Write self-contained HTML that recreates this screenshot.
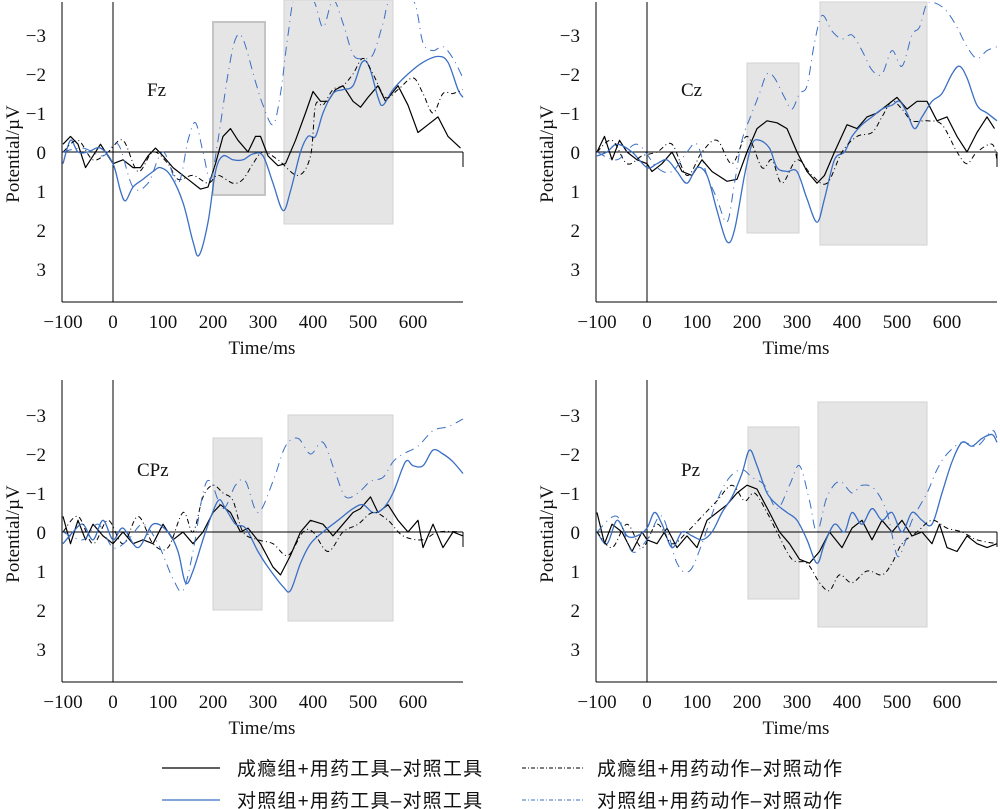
<!DOCTYPE html>
<html><head><meta charset="utf-8"><style>
html,body{margin:0;padding:0;background:#fff;}
svg{display:block;}
text{font-family:"Liberation Serif","Noto Serif CJK SC",serif;fill:#111;}
.leg{font-family:"Liberation Sans","Noto Sans CJK SC",sans-serif;font-size:19px;letter-spacing:1.2px;}
</style></head><body>
<svg id="s" width="1000" height="809" viewBox="0 0 1000 809" xmlns="http://www.w3.org/2000/svg">
<g id="g"></g>
<g font-size="19">
<text x="147" y="96" font-size="19">Fz</text>
<text x="681" y="96" font-size="19">Cz</text>
<text x="137" y="476" font-size="19">CPz</text>
<text x="681" y="476" font-size="19">Pz</text>
</g>
<line x1="162" y1="768" x2="220" y2="768" stroke="#000" stroke-width="1.3"/>
<text class="leg" x="237" y="775">成瘾组+用药工具–对照工具</text>
<line x1="522" y1="768" x2="583" y2="768" stroke="#000" stroke-width="1" stroke-dasharray="4,2,1,2"/>
<text class="leg" x="597" y="775">成瘾组+用药动作–对照动作</text>
<line x1="162" y1="800" x2="220" y2="800" stroke="#3a6fc4" stroke-width="1.3"/>
<text class="leg" x="237" y="807">对照组+用药工具–对照工具</text>
<line x1="522" y1="800" x2="583" y2="800" stroke="#3a6fc4" stroke-width="1" stroke-dasharray="4,2,1,2"/>
<text class="leg" x="597" y="807">对照组+用药动作–对照动作</text>
</svg>
<script>
var NS="http://www.w3.org/2000/svg",G=document.getElementById('g');
function el(t,a,p){var e=document.createElementNS(NS,t);for(var k in a)e.setAttribute(k,a[k]);(p||G).appendChild(e);return e;}
var panels=[
{x0:113,y0:152,sp:62,top:2,bot:302,boxes:[[213,22,265,195,1],[284,0,393,224,0]],
 d:[
 [[-100,-0.2],[-85,-0.4],[-70,-0.2],[-55,0.4],[-40,0.1],[-25,-0.2],[-10,0.1],[0,0.3],[20,0.2],[40,0.4],[55,0.4],[70,0.1],[85,-0.1],[100,0.1],[120,0.4],[150,0.7],[175,0.95],[190,0.9],[205,0.3],[220,-0.4],[235,-0.6],[250,-0.3],[270,0],[285,-0.4],[295,-0.4],[310,0.1],[330,0.35],[345,0.3],[365,-0.3],[385,-1.0],[400,-1.55],[415,-1.3],[430,-1.3],[445,-1.6],[460,-1.7],[480,-1.3],[495,-1.15],[510,-1.4],[530,-1.7],[545,-1.3],[570,-1.7],[590,-1.2],[610,-0.5],[630,-0.7],[650,-0.9],[670,-0.4],[695,-0.1]],
 [[-100,0.3],[-85,-0.3],[-70,0],[-50,0],[-25,-0.1],[0,0.3],[15,1.0],[25,1.25],[40,0.9],[60,0.7],[80,0.5],[95,0.4],[115,0.6],[140,1.3],[160,2.3],[172,2.65],[190,1.8],[205,0.5],[220,0.1],[240,0.2],[260,0.2],[280,0.05],[300,0.1],[320,0.8],[340,1.5],[355,1.0],[375,0],[390,-0.4],[405,-0.4],[420,-1.0],[440,-1.5],[460,-1.6],[480,-1.7],[498,-2.3],[512,-2.2],[530,-1.4],[540,-1.2],[560,-1.6],[590,-2.0],[620,-2.3],[650,-2.45],[670,-2.3],[690,-1.6],[700,-1.4]],
 [[-100,0],[-70,-0.3],[-40,0.2],[-10,0],[20,-0.3],[50,0.5],[80,0],[110,0.3],[130,0.7],[160,0.6],[190,0.8],[210,0.6],[240,0.8],[260,0.7],[280,0.3],[300,0],[330,0.2],[370,0.6],[395,0.1],[405,-1.2],[420,-1.2],[440,-1.6],[460,-1.7],[480,-2.0],[500,-2.4],[520,-2.0],[545,-1.4],[570,-1.6],[600,-1.9],[620,-1.5],[640,-1.0],[660,-1.5],[680,-1.5],[700,-1.6]],
 [[-100,0],[-60,-0.1],[-20,0.1],[10,-0.2],[40,0.9],[70,0.8],[100,0],[130,0.8],[150,-0.3],[165,-0.75],[180,0],[195,0.7],[210,-0.3],[230,-2.0],[245,-2.9],[260,-2.9],[285,-1.8],[300,-1.2],[320,-0.7],[335,-1.5],[350,-3.0],[365,-4],[400,-3.9],[420,-3.2],[440,-3.9],[460,-3.3],[480,-2.5],[500,-2.4],[520,-2.5],[540,-3.3],[555,-3.9],[600,-3.9],[620,-2.8],[640,-2.6],[660,-2.7],[680,-2.4],[700,-1.9]]]},
{x0:647,y0:152,sp:596,top:2,bot:302,boxes:[[747,63,799,233,0],[820,2,927,245,0]],
 d:[
 [[-100,0],[-85,-0.4],[-70,0.2],[-55,-0.3],[-40,0],[-20,0.2],[0,0.3],[10,0.5],[30,0.3],[50,0],[70,0.5],[90,0.6],[110,0.2],[130,0.5],[160,0.75],[180,0.7],[200,0],[220,-0.6],[240,-0.8],[260,-0.75],[280,-0.6],[300,0],[320,0.5],[340,0.8],[355,0.6],[375,0],[400,-0.7],[420,-0.6],[440,-0.9],[460,-1.0],[480,-1.2],[500,-1.4],[520,-1.1],[540,-1.3],[560,-1.3],[580,-0.8],[600,-0.9],[620,-0.4],[640,0],[660,-0.5],[680,-0.9],[695,-0.6]],
 [[-100,0.1],[-80,0],[-60,-0.2],[-30,0],[0,0.4],[20,0.3],[40,0.2],[60,0.5],[80,0.8],[100,0.4],[120,0.6],[140,1.5],[160,2.3],[175,2.0],[195,0.6],[210,-0.2],[225,-0.3],[245,-0.1],[260,0.4],[280,0.5],[300,0.5],[320,1.2],[340,1.8],[355,1.2],[375,0.2],[395,0],[410,-0.4],[430,-0.7],[450,-0.9],[470,-1.1],[490,-1.2],[505,-1.3],[520,-1.0],[535,-0.6],[550,-0.9],[570,-1.3],[590,-1.5],[610,-2.0],[625,-2.2],[640,-1.9],[660,-1.2],[680,-1.0],[700,-0.8]],
 [[-100,0],[-70,-0.3],[-40,0.3],[-10,0.1],[20,0],[50,-0.2],[80,0.6],[110,0],[140,-0.3],[170,0.3],[200,-0.4],[230,0.4],[250,0.2],[270,0.8],[300,0.2],[330,0.6],[360,0.8],[390,0],[420,-0.4],[450,-0.5],[470,-0.9],[490,-1.3],[510,-1.1],[530,-0.8],[560,-0.8],[590,-0.7],[620,0],[640,0.3],[660,0],[690,-0.2],[700,0.2]],
 [[-100,0],[-60,0.2],[-20,-0.2],[20,0.4],[50,0.5],[80,0],[100,-0.2],[120,0.6],[140,1.2],[160,1.8],[175,0.8],[190,-0.3],[210,-1.0],[225,-1.5],[240,-2.0],[255,-1.9],[275,-1.4],[290,-1.1],[305,-1.5],[320,-1.7],[335,-2.8],[350,-3.5],[370,-3.1],[390,-2.9],[410,-3.0],[430,-2.6],[450,-2.1],[470,-2.0],[490,-2.6],[510,-2.2],[530,-3.0],[545,-3.2],[560,-3.8],[580,-3.8],[600,-3.6],[620,-3.2],[640,-2.7],[660,-2.4],[680,-2.6],[700,-2.7]]]},
{x0:113,y0:532,sp:62,top:380,bot:682,boxes:[[213,438,262,610,0],[288,415,393,621,0]],
 d:[
 [[-100,-0.4],[-85,0.3],[-70,-0.3],[-55,0.2],[-40,-0.2],[-20,0.1],[0,0.3],[20,0],[40,0.3],[60,0.2],[80,0.3],[100,-0.2],[120,0.2],[140,0],[160,0.3],[180,0],[200,-0.5],[215,-0.7],[235,-0.5],[255,0],[270,-0.1],[295,0.3],[320,0.9],[335,1.1],[355,0.6],[375,0],[395,-0.3],[420,-0.2],[440,0.1],[460,-0.2],[480,-0.5],[495,-0.6],[515,-0.9],[530,-0.5],[550,-0.7],[570,-0.3],[590,0],[610,-0.3],[620,0.4],[640,-0.2],[660,0.4],[680,0],[700,0.1]],
 [[-100,0.3],[-80,0],[-60,-0.2],[-40,0.2],[-20,-0.3],[0,0.2],[20,-0.1],[50,0.4],[80,-0.2],[110,0],[130,0.5],[145,1.3],[160,1.0],[185,0],[210,-0.8],[225,-0.6],[245,-0.2],[265,-0.1],[290,0.5],[310,0.9],[340,1.4],[355,1.5],[375,0.8],[395,0.3],[420,0],[450,-0.3],[480,-0.6],[500,-0.7],[520,-0.5],[540,-0.6],[560,-1.0],[585,-1.8],[600,-1.7],[620,-1.7],[640,-2.1],[660,-2.0],[680,-1.8],[700,-1.5]],
 [[-100,0],[-70,-0.4],[-40,0.3],[-10,-0.3],[20,0.3],[50,-0.4],[80,0.3],[110,0.4],[140,-0.5],[160,0],[180,-0.9],[200,-1.2],[220,-1.0],[240,-0.8],[260,0],[290,0.2],[320,0.3],[350,0.6],[380,0],[400,0],[430,0.5],[460,0],[490,-0.2],[520,-0.5],[550,-0.3],[580,0.1],[620,0.2],[650,0],[700,0]],
 [[-100,0],[-60,0.2],[-30,-0.2],[0,0.4],[30,0.2],[60,-0.2],[90,0.3],[120,1.2],[140,1.5],[160,0.5],[180,-1.0],[195,-1.3],[220,-0.6],[245,-1.2],[265,-1.3],[290,-0.5],[320,-1.3],[345,-2.2],[370,-2.4],[395,-2.0],[420,-2.3],[445,-1.5],[465,-0.9],[490,-1.0],[515,-1.3],[540,-1.4],[560,-1.8],[580,-2.0],[610,-2.2],[640,-2.6],[670,-2.7],[700,-2.9]]]},
{x0:647,y0:532,sp:596,top:380,bot:682,boxes:[[748,427,799,599,0],[818,402,927,627,0]],
 d:[
 [[-100,-0.5],[-85,0.3],[-70,-0.2],[-50,0],[-30,0.5],[-10,0],[0,0.2],[20,0.3],[40,-0.1],[60,0.4],[80,0.1],[100,0.4],[120,-0.3],[140,-0.5],[160,-0.7],[180,-1.0],[200,-1.2],[220,-1.1],[245,-0.5],[265,0],[285,0.3],[305,0.7],[325,0.8],[345,0.5],[365,0],[390,0.4],[410,-0.1],[430,-0.3],[450,0.2],[470,-0.3],[490,0],[510,-0.3],[530,0.1],[550,0],[570,0.3],[585,-0.2],[600,0.4],[620,0.5],[640,0.1],[660,0.3],[680,0.4],[700,0.3]],
 [[-100,0],[-80,0.3],[-60,-0.3],[-40,0.1],[-20,0.1],[0,-0.1],[15,-0.5],[30,-0.2],[50,0.4],[70,0],[90,0.1],[110,0.2],[130,0],[150,-0.5],[170,-0.9],[190,-1.5],[205,-2.1],[220,-1.7],[240,-1.0],[260,-0.7],[280,-0.5],[300,-0.3],[320,0.2],[340,0.8],[355,0.3],[375,-0.2],[395,0],[410,-0.5],[430,-0.2],[450,-0.6],[470,-0.3],[490,-0.5],[510,0],[530,-0.5],[550,-0.3],[570,-0.2],[590,-1.0],[610,-1.8],[630,-2.3],[650,-2.2],[670,-2.4],[690,-2.5],[700,-2.3]],
 [[-100,0],[-70,0.4],[-40,-0.2],[-10,0.4],[20,-0.2],[50,0.3],[80,0],[110,-0.4],[140,-0.8],[170,-1.2],[195,-0.8],[215,-1.0],[240,-0.5],[260,0],[290,0.7],[320,0.8],[345,1.3],[365,1.5],[385,1.1],[410,1.3],[440,1.0],[470,1.1],[490,0.8],[510,0.3],[540,0],[570,-0.3],[600,-0.1],[630,0],[660,0.2],[700,0.3]],
 [[-100,0],[-60,-0.4],[-30,0.5],[0,0.2],[30,-0.4],[60,0.8],[85,1.0],[110,0.3],[140,-0.8],[165,-1.4],[190,-1.6],[210,-1.4],[235,-1.2],[260,-0.6],[285,-1.2],[305,-1.7],[325,-0.8],[340,0],[360,-0.9],[385,-1.3],[410,-1.0],[430,-1.2],[455,-1.1],[480,-0.5],[500,0.6],[515,0.3],[530,-0.3],[560,-1.0],[580,-1.6],[600,-2.0],[630,-2.3],[660,-2.2],[690,-2.6],[700,-2.4]]]}
];
var styles=[{s:"#000",w:1.2,da:"",sm:0},{s:"#3a6fc4",w:1.3,da:"",sm:1},{s:"#000",w:1,da:"5,3,1,3",sm:1},{s:"#3a6fc4",w:1,da:"9,5,1,5",sm:1}];
function smooth(P){var d='M'+P[0][0].toFixed(1)+','+P[0][1].toFixed(1);
  for(var i=0;i<P.length-1;i++){var p0=P[i-1]||P[i],p1=P[i],p2=P[i+1],p3=P[i+2]||p2;
    var c1=[p1[0]+(p2[0]-p0[0])/6,p1[1]+(p2[1]-p0[1])/6],c2=[p2[0]-(p3[0]-p1[0])/6,p2[1]-(p3[1]-p1[1])/6];
    d+=' C'+c1[0].toFixed(1)+','+c1[1].toFixed(1)+' '+c2[0].toFixed(1)+','+c2[1].toFixed(1)+' '+p2[0].toFixed(1)+','+p2[1].toFixed(1);}
  return d;}
panels.forEach(function(P,i){
  var right=P.x0+350;
  P.boxes.forEach(function(b){el('rect',{x:b[0],y:b[1],width:b[2]-b[0],height:b[3]-b[1],fill:'#e6e5e6',stroke:b[4]?'#c4c4c4':'#d2d2d2','stroke-width':b[4]?2:1});});
  var cp=el('clipPath',{id:'c'+i});el('rect',{x:P.sp,y:P.top,width:right-P.sp+1,height:P.bot-P.top},cp);
  el('line',{x1:P.sp,y1:P.y0,x2:right,y2:P.y0,stroke:'#000','stroke-width':1});
  el('line',{x1:P.x0,y1:P.top,x2:P.x0,y2:P.bot,stroke:'#000','stroke-width':1});
  el('line',{x1:right,y1:P.y0,x2:right,y2:P.y0+15,stroke:'#000','stroke-width':1});
  el('line',{x1:P.sp,y1:P.top,x2:P.sp,y2:P.bot,stroke:'#000','stroke-width':1});
  el('line',{x1:P.sp,y1:P.bot,x2:right,y2:P.bot,stroke:'#000','stroke-width':1});
  var g=el('g',{'clip-path':'url(#c'+i+')'});
  P.d.forEach(function(pts,k){var st=styles[k];
    var px=pts.map(function(p){return [P.x0+p[0]*0.5,P.y0+p[1]*39];});
    var a={d:st.sm?smooth(px):'M'+px.map(function(p){return p[0].toFixed(1)+','+p[1].toFixed(1);}).join(' L'),fill:'none',stroke:st.s,'stroke-width':st.w,'stroke-linejoin':'round'};
    if(st.da)a['stroke-dasharray']=st.da;
    el('path',a,g);});
  for(var v=-3;v<=3;v++){var y=P.y0+v*39;
    var t=el('text',{x:P.sp-16,y:y+7,'text-anchor':'end','font-size':19});t.textContent=(v<0?'\u2212':'')+Math.abs(v);}
  for(var m=-100;m<=600;m+=100){var x=P.x0+m*0.5;
    var t2=el('text',{x:x,y:P.bot+26,'text-anchor':'middle','font-size':19});t2.textContent=(m<0?'\u2212':'')+Math.abs(m);}
  var tx=el('text',{x:P.x0+149,y:P.bot+52,'text-anchor':'middle','font-size':19});tx.textContent='Time/ms';
  var ty=el('text',{x:0,y:0,'text-anchor':'middle','font-size':19,transform:'translate('+(P.sp-43)+','+(P.y0+2)+') rotate(-90)'});ty.textContent='Potential/\u00b5V';
});
</script>
</body></html>
